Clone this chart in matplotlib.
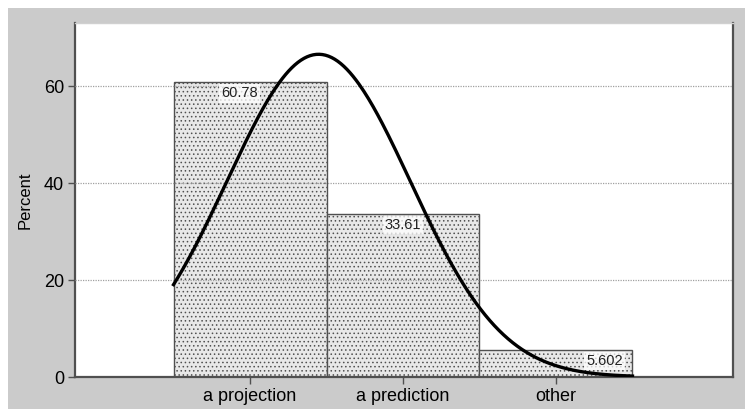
import numpy as np
import matplotlib.pyplot as plt
from matplotlib.patches import Rectangle

# Data
categories = ['a projection', 'a prediction', 'other']
codes = [1, 2, 3]
percent = [60.78, 33.61, 5.602]
bar_labels = ['60.78', '33.61', '5.602']

plt.rcParams['font.family'] = ['Liberation Sans Narrow', 'Liberation Sans', 'DejaVu Sans']
plt.rcParams['hatch.color'] = '#c2c2c2'
plt.rcParams['hatch.linewidth'] = 0.6

fig = plt.figure(figsize=(7.45, 4.09), dpi=100, facecolor='white')
# gray frame behind the plot region
fig.patches.append(Rectangle((8 / 745, 0), 1, 1 - 8 / 409, transform=fig.transFigure,
                             facecolor='#cbcbcb', edgecolor='none', zorder=-5))

ax = fig.add_axes([75 / 745, 1 - 377 / 409, (733 - 75) / 745, (377 - 23) / 409])
ax.set_facecolor('white')

# Bars (discrete histogram)
ax.bar(codes, percent, width=1.0, color='#e8e8e8', edgecolor='#505050', linewidth=1.0,
       hatch='....', zorder=2)

# Bar value labels
offsets = [-0.07, 0.0, 0.32]
for c, p, t, o in zip(codes, percent, bar_labels, offsets):
    ax.text(c + o, p - 2.3, t, ha='center', va='center', fontsize=10.5, color='#222222', zorder=5,
            bbox=dict(boxstyle='square,pad=0.15', facecolor='white', edgecolor='none', alpha=0.75))

# Normal density overlay from the data
x_vals = np.array(codes, dtype=float)
w = np.array(percent) / sum(percent)
mu = np.sum(w * x_vals)
sd = np.sqrt(np.sum(w * (x_vals - mu) ** 2))
xs = np.linspace(0.5, 3.5, 300)
ys = 100 / (sd * np.sqrt(2 * np.pi)) * np.exp(-(xs - mu) ** 2 / (2 * sd ** 2))
ax.plot(xs, ys, color='black', linewidth=2.4, zorder=4)

# Grid
for g in [20, 40, 60]:
    ax.axhline(g, color='#a0a0a0', linestyle=(0, (1, 1)), linewidth=0.9, zorder=3)

ax.set_xlim(-0.144, 4.157)
ax.set_ylim(0, 73)
ax.set_xticks(codes)
ax.set_xticklabels(categories, fontsize=13)
ax.set_yticks([0, 20, 40, 60])
ax.set_yticklabels(['0', '20', '40', '60'], fontsize=13)
ax.tick_params(axis='both', direction='out', length=5, width=1, color='#505050', pad=3)
ax.set_ylabel('Percent', fontsize=12, labelpad=8)

for s in ['left', 'bottom', 'right']:
    ax.spines[s].set_color('#505050')
    ax.spines[s].set_linewidth(1.6)
ax.spines['top'].set_color('#d0d0d0')
ax.spines['top'].set_linewidth(1.0)

fig.savefig('out.png', dpi=100, facecolor=fig.get_facecolor())
